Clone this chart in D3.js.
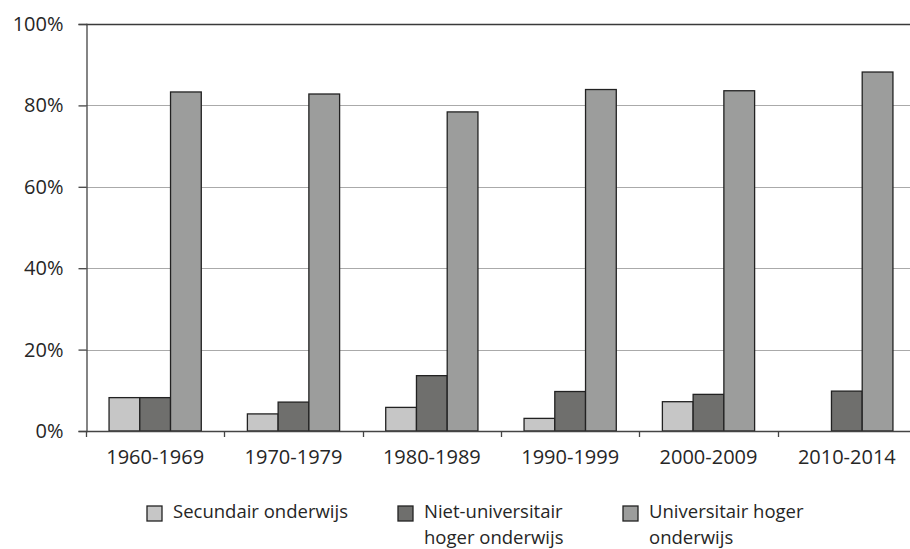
<!DOCTYPE html>
<html>
<head>
<meta charset="utf-8">
<script src="https://cdn.jsdelivr.net/npm/d3@7"></script>
<style>
  body { margin: 0; background: #fff; }
  svg { display: block; font-family: "Open Sans", sans-serif; }
</style>
</head>
<body>
<div id="chart"></div>
<script>
// data
const periods = ["1960-1969", "1970-1979", "1980-1989", "1990-1999", "2000-2009", "2010-2014"];
const seriesNames = ["Secundair onderwijs", "Niet-universitair hoger onderwijs", "Universitair hoger onderwijs"];
const secundair = [8.2, 4.2, 5.8, 3.1, 7.2, 0];
const nietUniv = [8.2, 7.1, 13.6, 9.7, 9.0, 9.8];
const univ = [83.3, 82.8, 78.4, 83.9, 83.6, 88.2];
const yTicks = [0, 20, 40, 60, 80, 100];
const legendLines = [["Secundair onderwijs"], ["Niet-universitair", "hoger onderwijs"], ["Universitair hoger", "onderwijs"]];

const colors = ["#c6c6c6", "#6f6f6d", "#9c9d9c"];
const textColor = "#262626";

document.addEventListener("DOMContentLoaded", () => {
    const width = 910, height = 549;
    const svg = d3.select("#chart").append("svg")
        .attr("width", width)
        .attr("height", height);

    const values = [secundair, nietUniv, univ];
    const data = periods.map((p, i) => ({
        period: p,
        vals: seriesNames.map((s, j) => ({ key: s, value: values[j][i] }))
    }));

    const x = d3.scaleBand().domain(periods).range([86, 916]).padding(0);
    const xi = d3.scaleBand().domain(seriesNames).range([0, x.bandwidth()])
        .paddingInner(0).paddingOuter(0.75);
    const y = d3.scaleLinear().domain([0, 100]).range([431, 24]);
    const color = d3.scaleOrdinal().domain(seriesNames).range(colors);

    // gridlines (la ligne du haut est plus foncée)
    svg.append("g").selectAll("line")
        .data(yTicks.filter(d => d > 0))
        .join("line")
        .attr("x1", 86).attr("x2", width)
        .attr("y1", d => Math.round(y(d)) + 0.5).attr("y2", d => Math.round(y(d)) + 0.5)
        .attr("stroke", d => d === 100 ? "#3a3a3a" : "#aaaaaa")
        .attr("stroke-width", d => d === 100 ? 1.3 : 1);

    // bars
    svg.append("g").selectAll("g")
        .data(data)
        .join("g")
        .attr("transform", d => `translate(${x(d.period)},0)`)
        .selectAll("rect")
        .data(d => d.vals.filter(v => v.value > 0))
        .join("rect")
        .attr("x", d => xi(d.key))
        .attr("y", d => y(d.value))
        .attr("width", xi.bandwidth())
        .attr("height", d => y(0) - y(d.value))
        .attr("fill", d => color(d.key))
        .attr("stroke", "#222")
        .attr("stroke-width", 1.3);

    // y axis
    const yAxis = svg.append("g")
        .attr("transform", "translate(86.5,0)")
        .call(d3.axisLeft(y).tickValues(yTicks).tickSize(8).tickPadding(15).tickFormat(d => d + "%"));
    yAxis.select(".domain").attr("stroke", "#444").attr("stroke-width", 1.3);
    yAxis.selectAll(".tick line").attr("stroke", "#444").attr("stroke-width", 1.3);
    yAxis.selectAll("text").attr("fill", textColor).attr("font-size", 20)
        .attr("font-family", "'Open Sans', sans-serif");

    // x axis
    const xAxis = svg.append("g")
        .attr("transform", `translate(0,${y(0)})`)
        .call(d3.axisBottom(x).tickSize(0).tickPadding(19));
    xAxis.select(".domain").attr("stroke", "#444").attr("stroke-width", 1.3);
    xAxis.selectAll("text").attr("fill", textColor).attr("font-size", 20)
        .attr("font-family", "'Open Sans', sans-serif");
    // ticks between categories
    xAxis.append("g").selectAll("line")
        .data(periods)
        .join("line")
        .attr("x1", d => Math.round(x(d)) + 0.5).attr("x2", d => Math.round(x(d)) + 0.5)
        .attr("y1", 0).attr("y2", 6)
        .attr("stroke", "#444").attr("stroke-width", 1.3);

    // legend
    const legendX = [147, 398, 623];
    const legend = svg.append("g").selectAll("g")
        .data(seriesNames)
        .join("g")
        .attr("transform", (d, i) => `translate(${legendX[i]},506)`);
    legend.append("rect")
        .attr("width", 15).attr("height", 15)
        .attr("fill", d => color(d))
        .attr("stroke", "#222").attr("stroke-width", 1.3);
    // une ligne = un <text>, pour que les boîtes ne se chevauchent pas
    legend.selectAll("text")
        .data((d, i) => legendLines[i])
        .join("text")
        .attr("x", 26)
        .attr("y", (d, i) => 12 + i * 25.5)
        .attr("fill", textColor).attr("font-size", 18.5)
        .text(d => d);
});
</script>
</body>
</html>
